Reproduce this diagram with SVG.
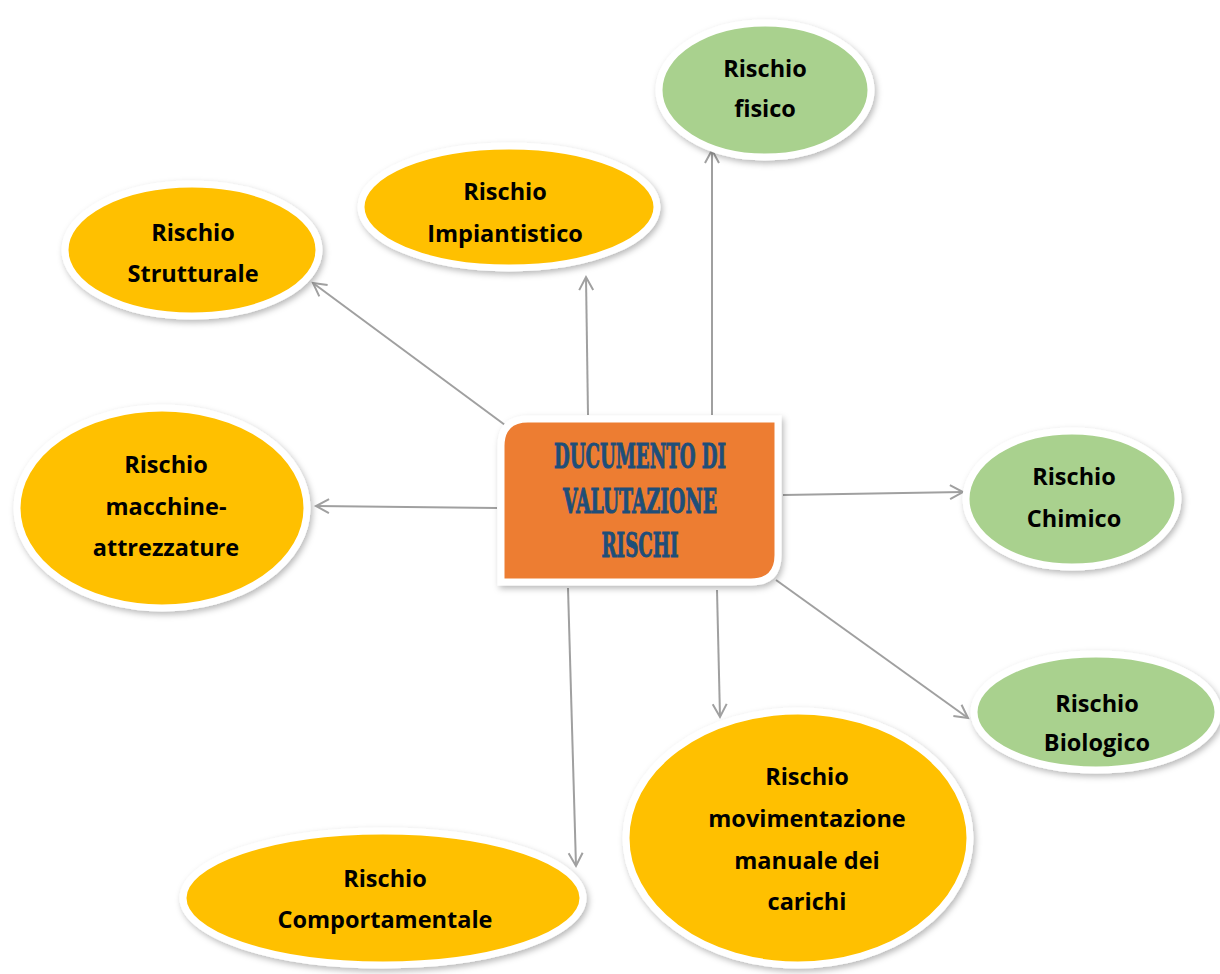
<svg xmlns="http://www.w3.org/2000/svg" width="1220" height="974" viewBox="0 0 1220 974">
<defs>
<filter id="sh" x="-20%" y="-20%" width="140%" height="140%">
<feDropShadow dx="2" dy="3" stdDeviation="3" flood-color="#000" flood-opacity="0.28"/>
</filter>
<marker id="arr" markerWidth="20" markerHeight="20" refX="15" refY="10" orient="auto" markerUnits="userSpaceOnUse">
<polyline points="2,3 15,10 2,17" fill="none" stroke="#a0a0a0" stroke-width="2"/>
</marker>
</defs>
<style>
.or{fill:#FFC000;stroke:#fff;stroke-width:7;filter:url(#sh)}
.gr{fill:#A9D18E;stroke:#fff;stroke-width:7;filter:url(#sh)}
.lb{font-family:"Open Sans","Noto Sans",sans-serif;font-weight:bold;font-size:23.5px;fill:#000;text-anchor:middle}
.ti{font-family:"DejaVu Serif Condensed","Liberation Serif",serif;font-weight:bold;font-size:34px;fill:#1F4E79;stroke:#1F4E79;stroke-width:1;text-anchor:middle}
.cn line{stroke:#a0a0a0;stroke-width:2;marker-end:url(#arr)}
</style>
<rect width="1220" height="974" fill="#fff"/>
<g class="cn" id="connectors">
<line x1="505" y1="425" x2="313" y2="283"/>
<line x1="588" y1="415" x2="586" y2="277"/>
<line x1="712" y1="415" x2="712" y2="150"/>
<line x1="497" y1="508" x2="316" y2="506"/>
<line x1="783" y1="495" x2="963" y2="492"/>
<line x1="776" y1="580" x2="968" y2="718"/>
<line x1="717" y1="590" x2="720" y2="717"/>
<line x1="568" y1="588" x2="576" y2="866"/>
</g>
<g id="center">
<path d="M528,419 H778 V555 Q778,582 751,582 H501 V446 Q501,419 528,419 Z" fill="#ED7D31" stroke="#fff" stroke-width="7" filter="url(#sh)"/>
<text class="ti" x="640" y="468" textLength="172" lengthAdjust="spacingAndGlyphs">DUCUMENTO DI</text>
<text class="ti" x="640" y="513" textLength="154" lengthAdjust="spacingAndGlyphs">VALUTAZIONE</text>
<text class="ti" x="640" y="557" textLength="77" lengthAdjust="spacingAndGlyphs">RISCHI</text>
</g>
<g id="strutturale">
<ellipse class="or" cx="192" cy="250" rx="127" ry="66"/>
<text class="lb" x="193" y="241">Rischio</text>
<text class="lb" x="193" y="282">Strutturale</text>
</g>
<g id="impiantistico">
<ellipse class="or" cx="509" cy="207" rx="148" ry="61"/>
<text class="lb" x="505" y="200">Rischio</text>
<text class="lb" x="505" y="242">Impiantistico</text>
</g>
<g id="fisico">
<ellipse class="gr" cx="765" cy="90" rx="106" ry="67"/>
<text class="lb" x="765" y="77">Rischio</text>
<text class="lb" x="765" y="117">fisico</text>
</g>
<g id="macchine">
<ellipse class="or" cx="162" cy="508" rx="145" ry="100"/>
<text class="lb" x="166" y="473">Rischio</text>
<text class="lb" x="166" y="515">macchine-</text>
<text class="lb" x="166" y="556">attrezzature</text>
</g>
<g id="chimico">
<ellipse class="gr" cx="1072" cy="499" rx="106" ry="68"/>
<text class="lb" x="1074" y="485">Rischio</text>
<text class="lb" x="1074" y="527">Chimico</text>
</g>
<g id="biologico">
<ellipse class="gr" cx="1096" cy="712" rx="122" ry="58"/>
<text class="lb" x="1097" y="712">Rischio</text>
<text class="lb" x="1097" y="751">Biologico</text>
</g>
<g id="movimentazione">
<ellipse class="or" cx="798" cy="838" rx="172" ry="127"/>
<text class="lb" x="807" y="785">Rischio</text>
<text class="lb" x="807" y="827">movimentazione</text>
<text class="lb" x="807" y="869">manuale dei</text>
<text class="lb" x="807" y="910">carichi</text>
</g>
<g id="comportamentale">
<ellipse class="or" cx="383" cy="898" rx="200" ry="67"/>
<text class="lb" x="385" y="887">Rischio</text>
<text class="lb" x="385" y="928">Comportamentale</text>
</g>
</svg>
